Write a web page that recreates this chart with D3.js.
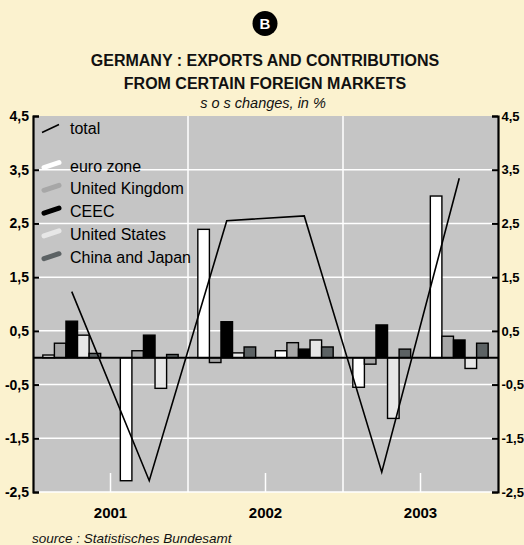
<!DOCTYPE html>
<html><head><meta charset="utf-8">
<script src="https://cdn.jsdelivr.net/npm/d3@7"></script>
<style>
html,body{margin:0;padding:0;background:#fbf2cf;}
svg{display:block;font-family:"Liberation Sans",Arial,sans-serif;}
</style></head><body>
<svg id="chart" width="524" height="545"></svg>
<script>
const periods = ["2001H1","2001H2","2002H1","2002H2","2003H1","2003H2"];
const years = ["2001","2002","2003"];
const seriesNames = ["euro zone","United Kingdom","CEEC","United States","China and Japan"];
const seriesColors = ["#ffffff","#a7a7a7","#000000","#e7e7e7","#5c6264"];
const euroZone      = [0.05, -2.29, 2.39, 0.13, -0.55, 3.01];
const unitedKingdom = [0.27, 0.13, -0.09, 0.28, -0.12, 0.40];
const ceec          = [0.68, 0.42, 0.67, 0.16, 0.61, 0.33];
const unitedStates  = [0.42, -0.57, 0.09, 0.33, -1.13, -0.20];
const chinaJapan    = [0.08, 0.06, 0.20, 0.20, 0.16, 0.27];
const total         = [1.23, -2.29, 2.55, 2.64, -2.13, 3.34];
const yTicks = [4.5, 3.5, 2.5, 1.5, 0.5, -0.5, -1.5, -2.5];
const tickLabels = ["4,5","3,5","2,5","1,5","0,5","-0,5","-1,5","-2,5"];

const seriesValues = [euroZone, unitedKingdom, ceec, unitedStates, chinaJapan];

const svg = d3.select("#chart");
const L = 33, R = 498, T = 116, B = 492;

const x = d3.scaleBand().domain(periods).range([L, R]).padding(0);
const xYear = d3.scaleBand().domain(years).range([L, R]).padding(0);
const xs = d3.scaleBand().domain(seriesNames).range([0, x.bandwidth()]).paddingInner(0).paddingOuter(0.85);
const y = d3.scaleLinear().domain([-2.5, 4.5]).range([B, T]);

// badge
svg.append("circle").attr("cx", 265).attr("cy", 23.5).attr("r", 12.5).attr("fill", "#000");
svg.append("text").attr("x", 265).attr("y", 29).attr("text-anchor", "middle")
  .attr("fill", "#fff").attr("font-weight", "bold").attr("font-size", 15).text("B");

// titles
svg.append("text").attr("x", 265).attr("y", 65.5).attr("text-anchor", "middle")
  .attr("font-weight", "bold").attr("font-size", 16).attr("fill", "#111")
  .text("GERMANY : EXPORTS AND CONTRIBUTIONS");
svg.append("text").attr("x", 265).attr("y", 89).attr("text-anchor", "middle")
  .attr("font-weight", "bold").attr("font-size", 16).attr("fill", "#111")
  .text("FROM CERTAIN FOREIGN MARKETS");
svg.append("text").attr("x", 263).attr("y", 108).attr("text-anchor", "middle")
  .attr("font-style", "italic").attr("font-size", 14.5).attr("fill", "#111")
  .text("s o s changes, in %");

// plot background
svg.append("rect").attr("x", L).attr("y", T).attr("width", R - L).attr("height", B - T).attr("fill", "#c5c5c5");

// horizontal gridlines
svg.append("g").selectAll("line").data(yTicks.filter(v => v < 4.5)).join("line")
  .attr("x1", L).attr("x2", R).attr("y1", d => y(d)).attr("y2", d => y(d))
  .attr("stroke", "#fff").attr("stroke-width", 1.5);

// year dividers
svg.append("g").selectAll("line").data(years.slice(1)).join("line")
  .attr("x1", d => xYear(d)).attr("x2", d => xYear(d)).attr("y1", T).attr("y2", B)
  .attr("stroke", "#fff").attr("stroke-width", 1.5);
// short year ticks
svg.append("g").selectAll("line").data(years).join("line")
  .attr("x1", d => xYear(d) + xYear.bandwidth() / 2).attr("x2", d => xYear(d) + xYear.bandwidth() / 2)
  .attr("y1", B - 19).attr("y2", B)
  .attr("stroke", "#fff").attr("stroke-width", 1.5);

// bars
const barData = [];
periods.forEach((p, i) => seriesNames.forEach((s, j) => barData.push({p, s, j, v: seriesValues[j][i]})));
svg.append("g").selectAll("rect").data(barData).join("rect")
  .attr("x", d => x(d.p) + xs(d.s))
  .attr("width", xs.bandwidth())
  .attr("y", d => y(Math.max(0, d.v)))
  .attr("height", d => Math.abs(y(d.v) - y(0)))
  .attr("fill", d => seriesColors[d.j])
  .attr("stroke", "#000").attr("stroke-width", 1.4);

// zero line
svg.append("line").attr("x1", L).attr("x2", R).attr("y1", y(0)).attr("y2", y(0))
  .attr("stroke", "#000").attr("stroke-width", 2);

// total line
const line = d3.line().x((d, i) => x(periods[i]) + x.bandwidth() / 2).y(d => y(d));
svg.append("path").datum(total).attr("d", line).attr("fill", "none")
  .attr("stroke", "#000").attr("stroke-width", 1.6);

// axes
const axL = d3.axisLeft(y).tickValues(yTicks).tickSize(-6).tickPadding(5).tickFormat((d, i) => tickLabels[i]);
const gL = svg.append("g").attr("transform", `translate(${L},0)`).call(axL);
const axR = d3.axisRight(y).tickValues(yTicks).tickSize(-6).tickPadding(5).tickFormat((d, i) => tickLabels[i]);
const gR = svg.append("g").attr("transform", `translate(${R},0)`).call(axR);
[gL, gR].forEach(g => {
  g.select(".domain").attr("stroke", "#000").attr("stroke-width", 2.2);
  g.selectAll(".tick line").attr("stroke", "#000").attr("stroke-width", 2);
  g.selectAll(".tick text").attr("font-size", 14).attr("font-weight", "bold")
    .attr("fill", "#000").attr("font-family", "'Liberation Sans',Arial,sans-serif");
});
gL.selectAll(".tick text").attr("x", -4);
gR.selectAll(".tick text").attr("x", 3.5).attr("font-size", 13);

// year labels
svg.append("g").selectAll("text").data(years).join("text")
  .attr("x", d => xYear(d) + xYear.bandwidth() / 2).attr("y", 518)
  .attr("text-anchor", "middle").attr("font-weight", "bold").attr("font-size", 15)
  .attr("fill", "#000").text(d => d);

// legend
const lg = svg.append("g");
lg.append("line").attr("x1", 42).attr("y1", 132.5).attr("x2", 59).attr("y2", 124.5)
  .attr("stroke", "#000").attr("stroke-width", 1.5);
lg.append("text").attr("x", 70).attr("y", 134).attr("font-size", 16).attr("fill", "#000").text("total");
seriesNames.forEach((s, j) => {
  const by = 171.5 + j * 22.8;
  lg.append("line").attr("x1", 44).attr("y1", by - 4).attr("x2", 59).attr("y2", by - 9)
    .attr("stroke", seriesColors[j]).attr("stroke-width", 5).attr("stroke-linecap", "round");
  lg.append("text").attr("x", 70).attr("y", by).attr("font-size", 16).attr("fill", "#000").text(s);
});

// source
svg.append("text").attr("x", 32).attr("y", 543).attr("font-style", "italic")
  .attr("font-size", 13.5).attr("fill", "#111").text("source : Statistisches Bundesamt");
</script>
</body></html>
